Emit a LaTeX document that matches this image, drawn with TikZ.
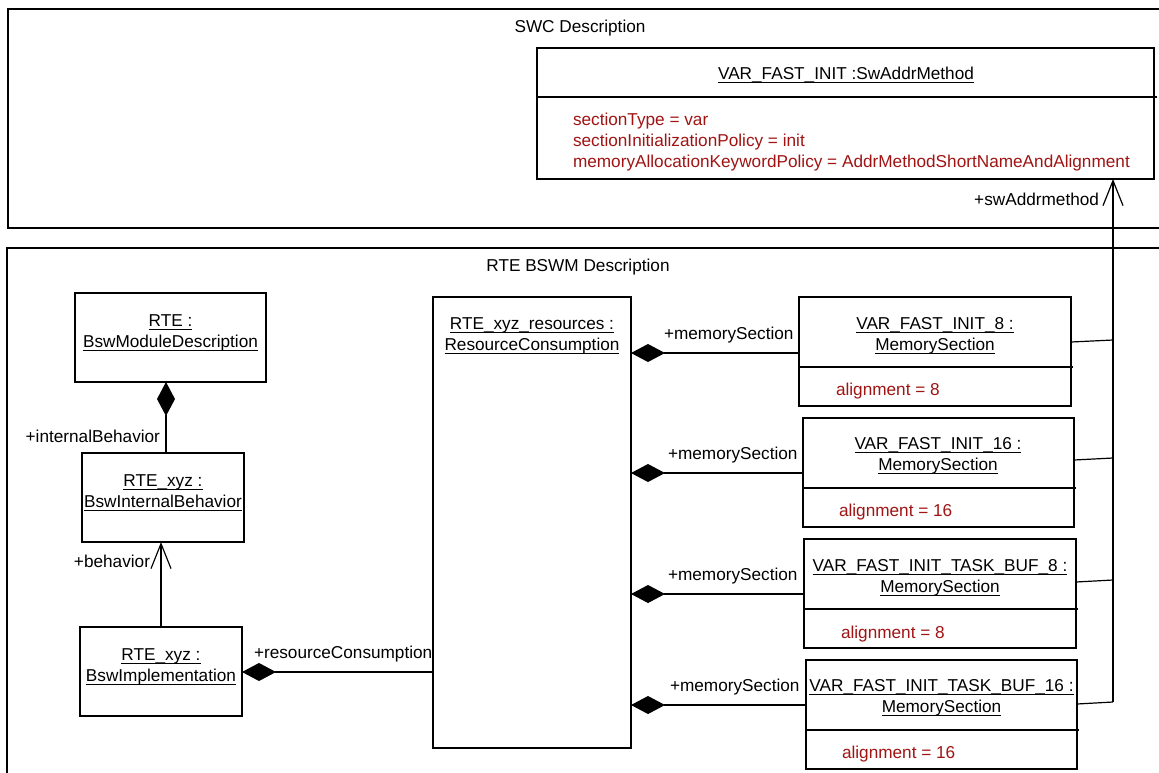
\documentclass[tikz,border=0pt]{standalone}
\usepackage{fontspec}
\setmainfont{Liberation Sans}
\usetikzlibrary{arrows.meta}
\definecolor{attrred}{RGB}{160,20,20}
\newcommand{\uln}[1]{\setbox0\hbox{#1}\rlap{\rule[-3.5pt]{\wd0}{0.9pt}}\box0}
\begin{document}
\begin{tikzpicture}[x=1pt,y=-1pt,
  every node/.style={font=\fontsize{17.2}{21}\selectfont, inner sep=0pt, outer sep=0pt},
  frame/.style={draw, line width=1.2pt, anchor=north west},
  obj/.style={draw, line width=1.2pt, anchor=north west, fill=white},
  ttl/.style={align=center},
  attrs/.style={anchor=base west, text=attrred},
  conn/.style={line width=1.2pt},
  comp/.style={conn, {Diamond[length=34pt,width=18pt]}-},
  nav/.style={conn, -{Straight Barb[length=25pt,width=20pt]}},
  sep/.style={line width=1.2pt}]
\useasboundingbox (0,0) rectangle (1159,772);

% frames
\node[frame, minimum width=1200pt, minimum height=219pt] (swc) at (8,9) {};
\node[anchor=base] (swct) at (580,32) {SWC Description};
\node[frame, minimum width=1200pt, minimum height=600pt] (rte) at (7,248) {};
\node[anchor=base] (rtet) at (578,271) {RTE BSWM Description};

% SwAddrMethod
\node[obj, minimum width=617pt, minimum height=131pt] (addr) at (537,48) {};
\draw[sep] ([yshift=-49pt]addr.north west) -- ([yshift=-49pt,xshift=3pt]addr.north east);
\node (addrt) at (846,75) {\uln{VAR\_FAST\_INIT :SwAddrMethod}};
\node[attrs] (a1) at (573,125) {sectionType = var};
\node[attrs] (a2) at (573,146) {sectionInitializationPolicy = init};
\node[attrs] (a3) at (573,167) {memoryAllocationKeywordPolicy = AddrMethodShortNameAndAlignment};

% left objects
\node[obj, minimum width=191pt, minimum height=89pt] (mod) at (75,293) {};
\node[ttl] (modt) at (170.5,332.5) {\uln{RTE :}\\\uln{BswModuleDescription}};
\node[obj, minimum width=162pt, minimum height=89pt] (ib) at (82,453) {};
\node[ttl] (ibt) at (163,492.5) {\uln{RTE\_xyz :}\\\uln{BswInternalBehavior}};
\node[obj, minimum width=162pt, minimum height=89pt] (impl) at (80,627) {};
\node[ttl] (implt) at (161,666.5) {\uln{RTE\_xyz :}\\\uln{BswImplementation}};

% resource consumption
\node[obj, minimum width=198pt, minimum height=451pt] (rc) at (433,297) {};
\node[ttl] (rct) at (532,335.5) {\uln{RTE\_xyz\_resources :}\\\uln{ResourceConsumption}};

% memory sections
\node[obj, minimum width=272pt, minimum height=109pt] (ms1) at (799,297) {};
\draw[sep] ([yshift=-70pt]ms1.north west) -- ([yshift=-70pt,xshift=2pt]ms1.north east);
\node[ttl] (ms1t) at (935,335.5) {\uln{VAR\_FAST\_INIT\_8 :}\\\uln{MemorySection}};
\node[attrs] (ms1a) at (836,395) {alignment = 8};

\node[obj, minimum width=271pt, minimum height=109pt] (ms2) at (803,418) {};
\draw[sep] ([yshift=-70pt]ms2.north west) -- ([yshift=-70pt,xshift=2pt]ms2.north east);
\node[ttl] (ms2t) at (938,455.5) {\uln{VAR\_FAST\_INIT\_16 :}\\\uln{MemorySection}};
\node[attrs] (ms2a) at (839,516) {alignment = 16};

\node[obj, minimum width=272pt, minimum height=109pt] (ms3) at (804,539) {};
\draw[sep] ([yshift=-70pt]ms3.north west) -- ([yshift=-70pt,xshift=2pt]ms3.north east);
\node[ttl] (ms3t) at (940,577.5) {\uln{VAR\_FAST\_INIT\_TASK\_BUF\_8 :}\\\uln{MemorySection}};
\node[attrs] (ms3a) at (841,638) {alignment = 8};

\node[obj, minimum width=271pt, minimum height=109pt] (ms4) at (806,660) {};
\draw[sep] ([yshift=-70pt]ms4.north west) -- ([yshift=-70pt,xshift=2pt]ms4.north east);
\node[ttl] (ms4t) at (941.5,697.5) {\uln{VAR\_FAST\_INIT\_TASK\_BUF\_16 :}\\\uln{MemorySection}};
\node[attrs] (ms4a) at (842,758) {alignment = 16};

% connectors (left)
\draw[comp] (mod.south -| 166,0) -- (ib.north -| 166,0);
\node[anchor=base east] (l1) at (160,442) {+internalBehavior};
\draw[nav] (impl.north) -- (impl.north |- ib.south);
\node[anchor=base east] (l2) at (150,567) {+behavior};
\draw[comp] (impl.east |- 0,672) -- (rc.west |- 0,672);
\node[anchor=base west] (l3) at (254,658) {+resourceConsumption};

% rc to memory sections
\draw[comp] (rc.east |- 0,353) -- (ms1.west |- 0,353);
\node[anchor=base west] (m1) at (664,339) {+memorySection};
\draw[comp] (rc.east |- 0,473) -- (ms2.west |- 0,473);
\node[anchor=base west] (m2) at (668,459) {+memorySection};
\draw[comp] (rc.east |- 0,594) -- (ms3.west |- 0,594);
\node[anchor=base west] (m3) at (668,580) {+memorySection};
\draw[comp] (rc.east |- 0,705) -- (ms4.west |- 0,705);
\node[anchor=base west] (m4) at (670,691) {+memorySection};

% memory sections to SwAddrMethod
\coordinate (j1) at (1113,340);
\coordinate (j2) at (1113,458);
\coordinate (j3) at (1113,580);
\coordinate (j4) at (1113,702);
\draw[conn] (ms1.east |- 0,342) -- (j1);
\draw[conn] (ms2.east |- 0,460) -- (j2);
\draw[conn] (ms3.east |- 0,582) -- (j3);
\draw[conn] (ms4.east |- 0,704) -- (j4);
\draw[nav] (j4) -- (j4 |- addr.south);
\node[anchor=base east] (sw) at (1099,205) {+swAddrmethod};
\end{tikzpicture}
\end{document}
